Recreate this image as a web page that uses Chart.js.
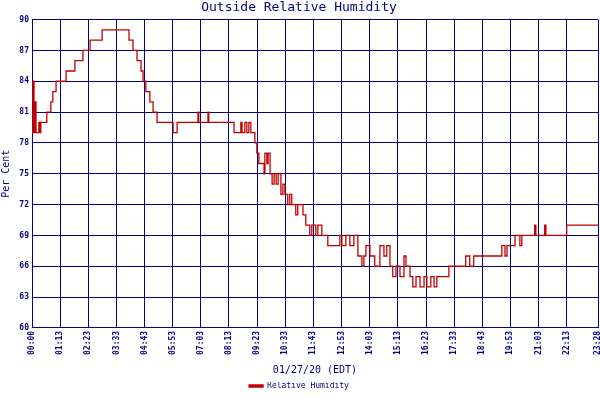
<!DOCTYPE html>
<html><head><style>html,body{margin:0;background:#fff}#w{width:600px;height:400px}</style>
<script src="https://cdn.jsdelivr.net/npm/chart.js@4"></script></head>
<body><div id="w"><canvas id="c"></canvas></div>
<script>
const minutes=[0,2,5,7,10,15,17,20,22,35,37,45,47,52,60,85,107,127,145,175,242,252,262,272,277,284,294,302,312,352,362,411,414,416,439,441,504,521,524,531,536,541,546,556,561,566,576,579,581,586,589,594,599,604,609,614,621,626,631,638,643,648,658,663,676,683,693,698,708,713,723,738,768,773,783,793,803,813,823,828,833,843,855,868,878,885,893,900,908,918,928,933,943,950,958,968,978,985,995,1003,1010,1040,1082,1092,1102,1142,1172,1180,1185,1205,1217,1222,1254,1257,1279,1282,1287,1334,1412];
const humidity=[79,84,79,82,79,79,80,79,80,80,81,81,82,83,84,85,86,87,88,89,88,87,86,85,84,83,82,81,80,79,80,80,81,80,81,80,79,80,79,80,79,80,79,78,77,76,76,75,77,76,77,75,74,75,74,75,73,74,73,72,73,72,71,72,71,70,69,70,69,70,69,68,69,68,69,68,69,67,66,67,68,67,66,68,67,68,66,65,66,65,67,66,65,64,65,64,65,64,65,64,65,66,67,66,67,67,68,67,68,69,68,69,70,69,70,69,69,70,70];
const tickMinutes=[0,70,140,211,281,351,421,491,562,632,702,772,842,913,983,1053,1123,1193,1264,1334,1412];
const tickLabels=["00:00","01:13","02:23","03:33","04:43","05:53","07:03","08:13","09:23","10:33","11:43","12:53","14:03","15:13","16:23","17:33","18:43","19:53","21:03","22:13","23:28"];
const yTicks=[60,63,66,69,72,75,78,81,84,87,90];
const navy='#000080';
new Chart(document.getElementById('c'),{type:'line',
data:{datasets:[{label:'Relative Humidity',data:minutes.map((m,i)=>({x:m,y:humidity[i]})),stepped:true,borderColor:'#c00000',backgroundColor:'#c00000',borderWidth:1.3,pointRadius:0}]},
options:{responsive:true,maintainAspectRatio:false,animation:false,layout:{padding:{right:2,top:0}},
plugins:{title:{display:true,text:'Outside Relative Humidity',color:navy,font:{family:'DejaVu Sans Mono',size:13,weight:'normal'},padding:{top:0,bottom:4}},
legend:{position:'bottom',labels:{color:navy,font:{family:'DejaVu Sans Mono',size:8},boxWidth:14,boxHeight:2,padding:0}}},
scales:{x:{type:'linear',min:0,max:1412,afterBuildTicks:s=>{s.ticks=tickMinutes.map(v=>({value:v}))},
afterFit:s=>{s.paddingRight=0;s.paddingLeft=0},
ticks:{autoSkip:false,maxRotation:90,minRotation:90,color:navy,font:{family:'DejaVu Sans Mono',size:8,weight:'bold'},callback:(v,i)=>tickLabels[i]},
grid:{color:navy,lineWidth:1,tickLength:0},border:{color:navy},
title:{display:true,text:'01/27/20 (EDT)',color:navy,font:{family:'DejaVu Sans Mono',size:10},padding:{top:6,bottom:6}}},
y:{min:60,max:90,afterBuildTicks:s=>{s.ticks=yTicks.map(v=>({value:v}))},afterFit:s=>{s.width=32},
ticks:{color:navy,font:{family:'DejaVu Sans Mono',size:8,weight:'bold'},padding:3},
grid:{color:navy,lineWidth:1,tickLength:0},border:{color:navy},
title:{display:true,text:'Per Cent',color:navy,font:{family:'DejaVu Sans Mono',size:10},padding:0}}}}});
</script></body></html>
